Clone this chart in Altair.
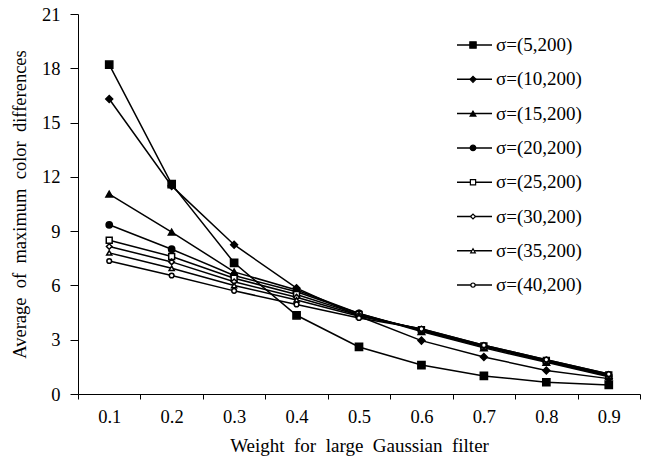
import altair as alt
import pandas as pd

# Weight for the large Gaussian filter (category axis)
weights = ["0.1", "0.2", "0.3", "0.4", "0.5", "0.6", "0.7", "0.8", "0.9"]

# Series names and their averages of maximum colour differences
names = ["σ=(5,200)", "σ=(10,200)", "σ=(15,200)", "σ=(20,200)",
         "σ=(25,200)", "σ=(30,200)", "σ=(35,200)", "σ=(40,200)"]
s5 = [18.2, 11.6, 7.25, 4.35, 2.6, 1.6, 1.0, 0.65, 0.5]
s10 = [16.3, 11.5, 8.25, 5.85, 4.3, 2.95, 2.05, 1.3, 0.85]
s15 = [11.05, 8.95, 6.75, 5.75, 4.45, 3.45, 2.55, 1.75, 0.95]
s20 = [9.35, 8.0, 6.55, 5.65, 4.45, 3.5, 2.6, 1.8, 1.0]
s25 = [8.5, 7.6, 6.4, 5.5, 4.4, 3.55, 2.65, 1.85, 1.05]
s30 = [8.15, 7.3, 6.2, 5.35, 4.35, 3.55, 2.65, 1.85, 1.05]
s35 = [7.8, 6.95, 6.0, 5.2, 4.3, 3.6, 2.7, 1.9, 1.1]
s40 = [7.35, 6.55, 5.7, 4.95, 4.2, 3.6, 2.7, 1.9, 1.1]
series = [s5, s10, s15, s20, s25, s30, s35, s40]

# Marker styles per series
shapes = ["square", "diamond", "triangle-up", "circle",
          "square", "diamond", "triangle-up", "circle"]
fills = ["black", "black", "black", "black", "white", "white", "white", "white"]
sizes = [52, 22, 42, 44, 64, 36, 60, 56]
legend_sizes = [40, 18, 30, 32, 38, 24, 36, 36]

FONT = "Liberation Serif"
SP = "\u2002"  # wide word spacing used in the axis titles

rows = []
for name, vals in zip(names, series):
    for w, v in zip(weights, vals):
        rows.append({"series": name, "weight": w, "value": v})
df = pd.DataFrame(rows)

x_enc = alt.X(
    "weight:O",
    scale=alt.Scale(domain=weights, paddingInner=0, paddingOuter=0),
    axis=alt.Axis(
        title=SP.join(["Weight", "for", "large", "Gaussian", "filter"]),
        labelAngle=0, tickBand="extent", tickSize=5, labelPadding=8,
        labelFont=FONT, labelFontSize=18.5, labelColor="black",
        titleFont=FONT, titleFontSize=19, titleFontWeight="normal",
        titleColor="black", titlePadding=11,
        domainColor="black", tickColor="black",
    ),
)
y_enc = alt.Y(
    "value:Q",
    scale=alt.Scale(domain=[0, 21], nice=False),
    axis=alt.Axis(
        title=SP.join(["Average", "of", "maximum", "color", "differences"]),
        values=list(range(0, 22, 3)), grid=False, tickSize=8, labelPadding=10,
        labelFont=FONT, labelFontSize=18.5, labelColor="black",
        titleFont=FONT, titleFontSize=18.5, titleFontWeight="normal",
        titleColor="black", titlePadding=12,
        domainColor="black", tickColor="black",
    ),
)

lines = alt.Chart(df).mark_line(color="black", strokeWidth=1.5).encode(
    x=x_enc, y=y_enc, detail="series:N"
)

points = alt.Chart(df).mark_point(filled=True, stroke="black", strokeWidth=1.5, opacity=1).encode(
    x=alt.X("weight:O"),
    y=alt.Y("value:Q"),
    shape=alt.Shape("series:N", scale=alt.Scale(domain=names, range=shapes), legend=None),
    fill=alt.Fill("series:N", scale=alt.Scale(domain=names, range=fills), legend=None),
    size=alt.Size("series:N", scale=alt.Scale(domain=names, range=sizes), legend=None),
)

# Legend entries drawn inside the plot area
leg = pd.DataFrame({"series": names, "idx": list(range(len(names)))})
leg_base = alt.Chart(leg).transform_calculate(ly="31 + 34.3 * datum.idx")

leg_rule = leg_base.mark_rule(color="black", strokeWidth=1.5).encode(
    x=alt.value(379), x2=alt.value(414), y=alt.Y("ly:Q", scale=None)
)
leg_pts = leg_base.mark_point(filled=True, stroke="black", strokeWidth=1.2, opacity=1).encode(
    x=alt.value(395),
    y=alt.Y("ly:Q", scale=None),
    shape=alt.Shape("series:N", scale=alt.Scale(domain=names, range=shapes), legend=None),
    fill=alt.Fill("series:N", scale=alt.Scale(domain=names, range=fills), legend=None),
    size=alt.Size("series:N", scale=alt.Scale(domain=names, range=legend_sizes), legend=None),
)
leg_text = leg_base.mark_text(
    align="left", baseline="middle", font=FONT, fontSize=19, color="black"
).encode(x=alt.value(418), y=alt.Y("ly:Q", scale=None), text="series:N")

chart = (
    alt.layer(lines, points, leg_rule, leg_pts, leg_text)
    .resolve_scale(shape="shared", fill="shared", size="independent")
    .properties(
        width=562, height=380,
        autosize=alt.AutoSizeParams(type="none"),
        padding={"left": 78, "top": 14, "right": 8, "bottom": 70},
        background="white",
    )
    .configure_view(stroke=None)
)

chart.save("out.html", embed_options={"renderer": "svg", "actions": False})
